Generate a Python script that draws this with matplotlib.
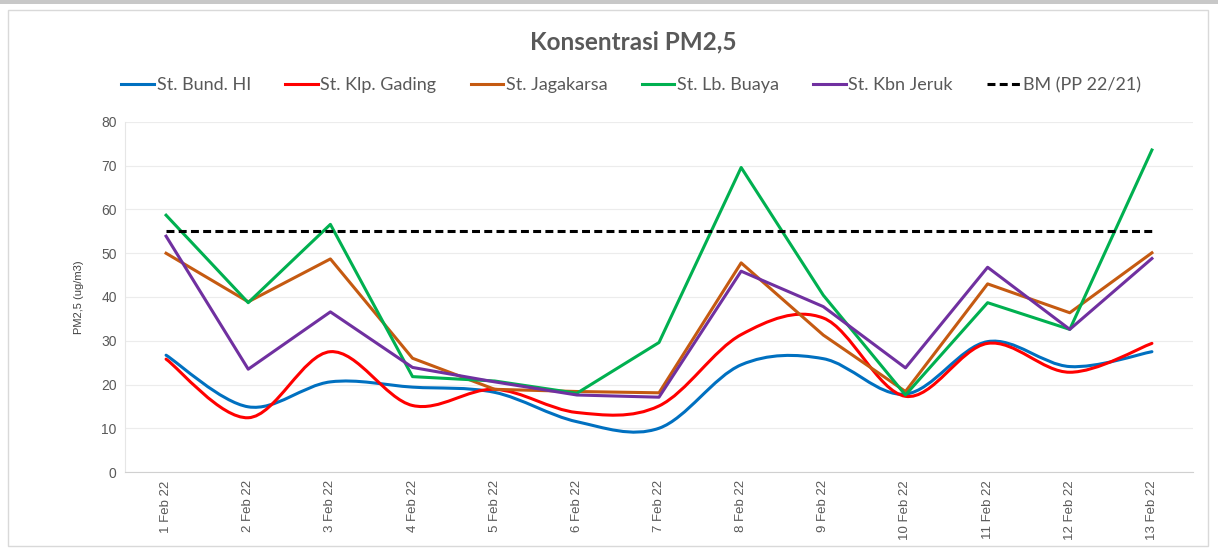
import matplotlib.pyplot as plt
from matplotlib.path import Path
from matplotlib.patches import PathPatch, Rectangle
from matplotlib.lines import Line2D

dates = ['1 Feb 22', '2 Feb 22', '3 Feb 22', '4 Feb 22', '5 Feb 22', '6 Feb 22', '7 Feb 22',
         '8 Feb 22', '9 Feb 22', '10 Feb 22', '11 Feb 22', '12 Feb 22', '13 Feb 22']

bund_hi = [26.7, 14.9, 20.6, 19.4, 18.2, 11.5, 10.0, 24.5, 25.9, 17.8, 29.8, 24.1, 27.5]
klp_gading = [25.8, 12.4, 27.5, 15.2, 18.9, 13.6, 15.1, 31.4, 35.2, 17.3, 29.4, 22.8, 29.4]
jagakarsa = [50.0, 38.9, 48.7, 26.0, 18.9, 18.4, 18.1, 47.8, 31.3, 18.4, 43.0, 36.4, 50.1]
lb_buaya = [58.7, 38.7, 56.6, 21.8, 20.8, 18.0, 29.6, 69.6, 40.4, 17.6, 38.7, 32.6, 73.6]
kbn_jeruk = [53.9, 23.5, 36.6, 23.9, 20.6, 17.6, 17.1, 45.9, 37.8, 23.8, 46.8, 32.6, 48.8]
baku_mutu = [55] * len(dates)

TEXT = '#595959'


def smooth_path(xs, ys):
    # Excel style smoothed line: bezier segments through every point
    n = len(xs)
    verts = [(xs[0], ys[0])]
    codes = [Path.MOVETO]
    for i in range(n - 1):
        a = max(i - 1, 0)
        b = min(i + 2, n - 1)
        c1 = (xs[i] + (xs[i + 1] - xs[a]) / 6, ys[i] + (ys[i + 1] - ys[a]) / 6)
        c2 = (xs[i + 1] - (xs[b] - xs[i]) / 6, ys[i + 1] - (ys[b] - ys[i]) / 6)
        verts += [c1, c2, (xs[i + 1], ys[i + 1])]
        codes += [Path.CURVE4] * 3
    return Path(verts, codes)


fig = plt.figure(figsize=(12.18, 5.48), dpi=100)
# thin grey band along the top and the chart frame
fig.patches.append(Rectangle((0, 544 / 548), 1, 4 / 548, transform=fig.transFigure,
                             facecolor='#c8c8c8', edgecolor='none'))
fig.patches.append(Rectangle((8 / 1218, 2 / 548), 1200 / 1218, 536 / 548, transform=fig.transFigure,
                             fill=False, edgecolor='#d9d9d9', lw=1))
ax = fig.add_axes([125 / 1218, 76 / 548, 1068 / 1218, 350 / 548])
x = list(range(len(dates)))

lw = 2.2
handles = []
for vals, col, name in [(bund_hi, '#0070C0', 'St. Bund. HI'), (klp_gading, '#FF0000', 'St. Klp. Gading')]:
    ax.add_patch(PathPatch(smooth_path(x, vals), facecolor='none', edgecolor=col, lw=lw,
                           capstyle='round', joinstyle='round', zorder=3))
    handles.append(Line2D([], [], color=col, lw=lw, label=name))

for vals, col, name in [(jagakarsa, '#C55A11', 'St. Jagakarsa'), (lb_buaya, '#00B050', 'St. Lb. Buaya'),
                        (kbn_jeruk, '#7030A0', 'St. Kbn Jeruk')]:
    line, = ax.plot(x, vals, color=col, lw=lw, label=name, zorder=3)
    handles.append(line)

bm, = ax.plot(x, baku_mutu, color='black', lw=lw, dashes=(2.6, 1.4), label='BM (PP 22/21)', zorder=4)
handles.append(bm)

ax.set_xlim(-0.5, len(dates) - 0.5)
ax.set_ylim(0, 80)
ax.set_yticks(range(0, 81, 10))
ax.set_xticks(x)
ax.set_xticklabels(dates, rotation=90, fontsize=9.5, color=TEXT, family='Liberation Sans')
for lab in ax.get_yticklabels():
    lab.set_fontsize(10)
    lab.set_color(TEXT)
    lab.set_family('Liberation Sans')
ax.tick_params(length=0, pad=6)
ax.grid(axis='y', color='#ececec', lw=0.8)
ax.set_axisbelow(True)
for s in ['top', 'right']:
    ax.spines[s].set_visible(False)
ax.spines['left'].set_color('#e6e6e6')
ax.spines['bottom'].set_color('#d0d0d0')
ax.set_ylabel('PM2,5 (ug/m3)', fontsize=8, color='#404040', family='Liberation Sans', labelpad=12)

fig.text(0.520, 0.923, 'Konsentrasi PM2,5', ha='center', va='center', fontsize=17.5,
         fontweight='bold', color=TEXT, family='Lato')
leg = fig.legend(handles=handles, loc='center', bbox_to_anchor=(0.518, 0.845), ncol=6, frameon=False,
                 prop={'family': 'Lato', 'size': 13}, handlelength=1.8, handletextpad=0.15,
                 columnspacing=1.9)
for t in leg.get_texts():
    t.set_color(TEXT)

fig.savefig('out.png', dpi=100, facecolor='white')
